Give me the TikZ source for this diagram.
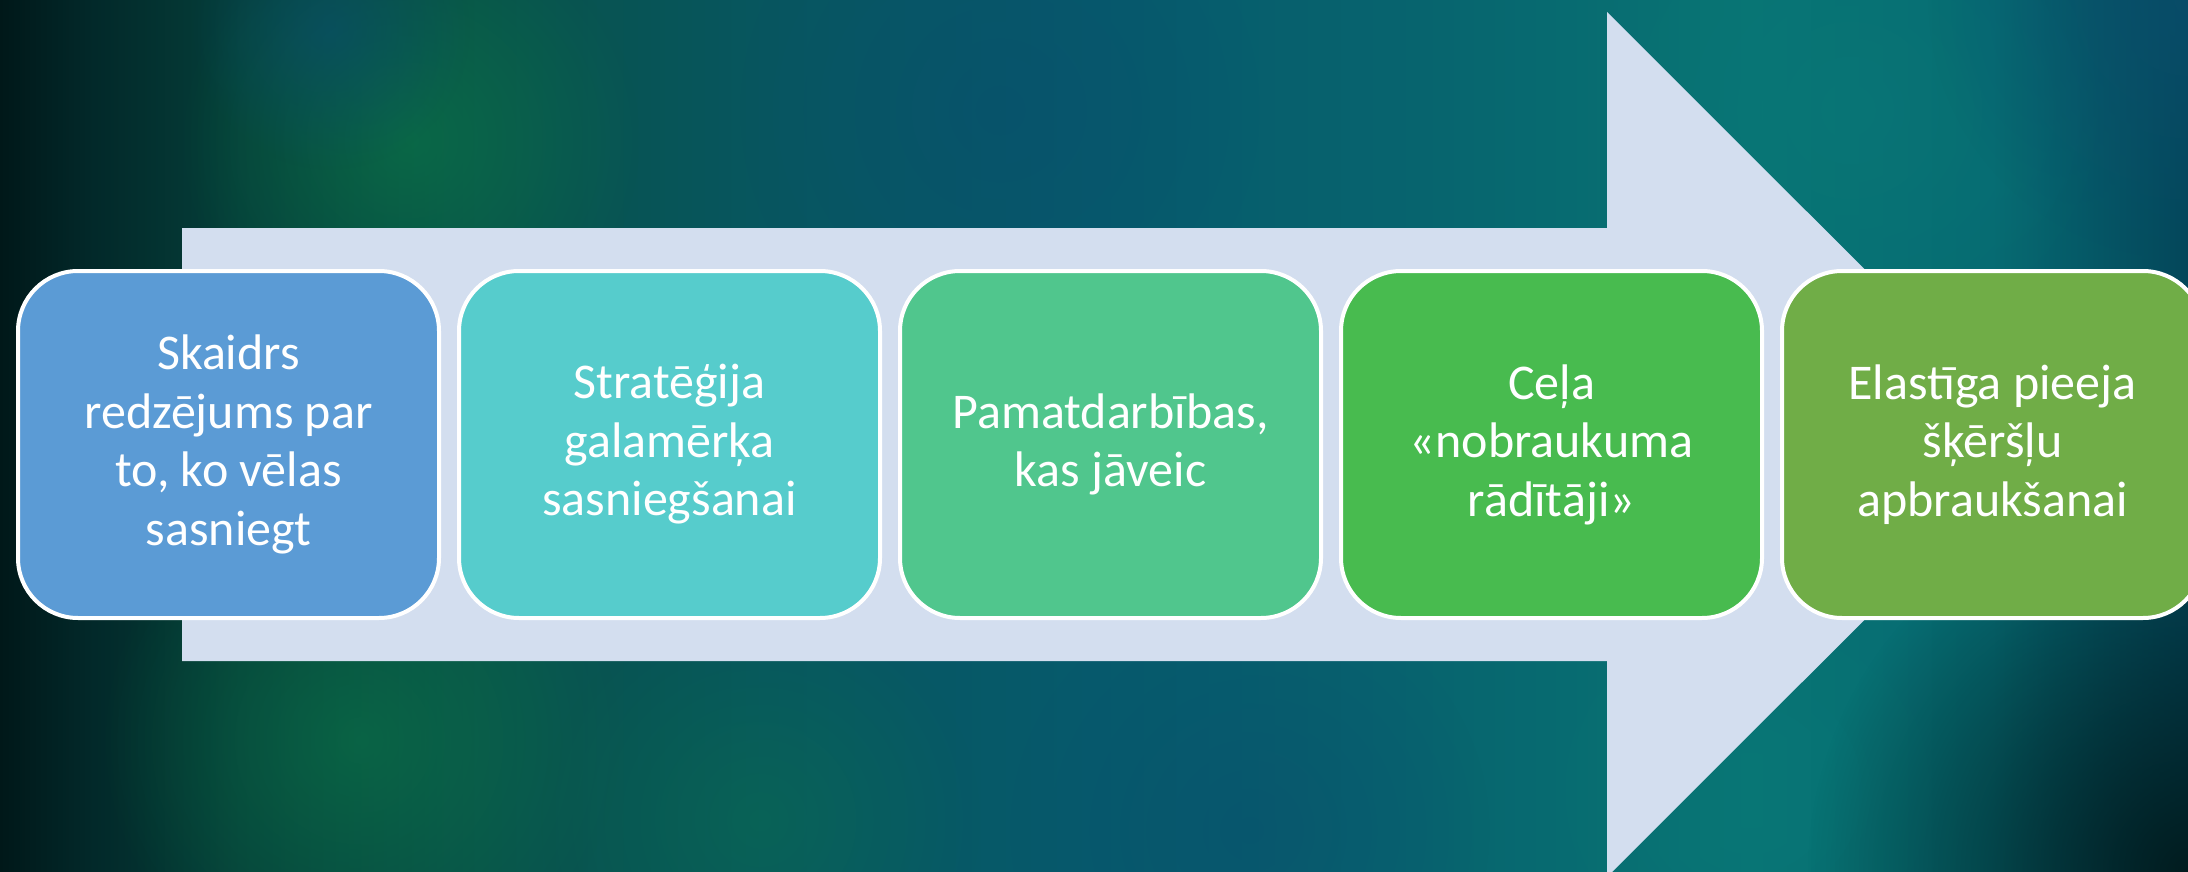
\documentclass[tikz,border=0pt]{standalone}
\usepackage{fontspec}
\setmainfont{Carlito}
\usetikzlibrary{fadings}
\definecolor{bgdark}{HTML}{011A1C}
\definecolor{glowgreen}{HTML}{0C7A48}
\definecolor{glowteal}{HTML}{0A7A78}
\definecolor{glowblue}{HTML}{0A4E6E}
\definecolor{arrowfill}{HTML}{D3DEEF}
\definecolor{cA}{HTML}{5B9BD5}
\definecolor{cB}{HTML}{56CCCC}
\definecolor{cC}{HTML}{50C68D}
\definecolor{cD}{HTML}{48BB4F}
\definecolor{cE}{HTML}{70AD47}
\definecolor{g0}{HTML}{001819}
\definecolor{g1}{HTML}{022829}
\definecolor{g2}{HTML}{053F3A}
\definecolor{g3}{HTML}{08524A}
\definecolor{g4}{HTML}{07565F}
\definecolor{g5}{HTML}{065A6C}
\definecolor{g6}{HTML}{07646E}
\definecolor{g7}{HTML}{087474}
\definecolor{g8}{HTML}{066A72}
\definecolor{g9}{HTML}{04465A}
\pgfdeclarehorizontalshading{bgshade}{100bp}{color(0bp)=(g0); color(25bp)=(g0);
  color(27bp)=(g1); color(30.5bp)=(g2); color(36bp)=(g3); color(42.5bp)=(g4);
  color(50bp)=(g5); color(57.5bp)=(g6); color(65bp)=(g7); color(70.5bp)=(g8);
  color(75bp)=(g9); color(100bp)=(g9)}
\tikzfading[name=softglow, inner color=transparent!0, outer color=transparent!100]
\tikzset{
  stepbox/.style={rectangle, rounded corners=60pt, draw=white, line width=4pt,
    minimum width=421pt, minimum height=347pt, text=white, align=center,
    font=\fontsize{50}{58.5}\selectfont, inner sep=0pt},
  glow/.style={path fading=softglow, fit fading=true}
}
\begin{document}
\begin{tikzpicture}[x=1pt,y=-1pt]
\useasboundingbox (0,0) rectangle (2188,872);
\clip (0,0) rectangle (2188,872);
% background
\shade[shading=bgshade] (0,0) rectangle (2188,872);
\fill[glowgreen, opacity=0.6, glow] (410,140) circle (230);
\fill[glowgreen, opacity=0.55, glow] (360,740) circle (260);
\fill[glowgreen, opacity=0.35, glow] (760,820) circle (220);
\fill[glowblue, opacity=0.6, glow] (330,30) circle (140);
\fill[glowblue, opacity=0.5, glow] (1000,110) circle (260);
\fill[glowblue, opacity=0.5, glow] (1250,830) circle (240);
\fill[glowteal, opacity=0.5, glow] (1850,110) circle (260);
\fill[glowteal, opacity=0.4, glow] (1750,790) circle (220);
\fill[bgdark, opacity=0.95, glow] (2188,872) circle (380);
\fill[glowblue, opacity=0.7, glow] (2188,0) circle (260);
% arrow
\fill[arrowfill] (182,228) -- (1607,228) -- (1607,12) -- (2040,444.5)
  -- (1607,877) -- (1607,661) -- (182,661) -- cycle;
% steps
\node[stepbox, fill=cA] (s1) at (228.5,444.5) {Skaidrs\\redzējums par\\to, ko vēlas\\sasniegt};
\node[stepbox, fill=cB] (s2) at (669.5,444.5) {Stratēģija\\galamērķa\\sasniegšanai};
\node[stepbox, fill=cC] (s3) at (1110.5,444.5) {Pamatdarbības,\\kas jāveic};
\node[stepbox, fill=cD] (s4) at (1551.5,444.5) {Ceļa\\«nobraukuma\\rādītāji»};
\node[stepbox, fill=cE] (s5) at (1992.5,444.5) {Elastīga pieeja\\šķēršļu\\apbraukšanai};
\end{tikzpicture}
\end{document}
